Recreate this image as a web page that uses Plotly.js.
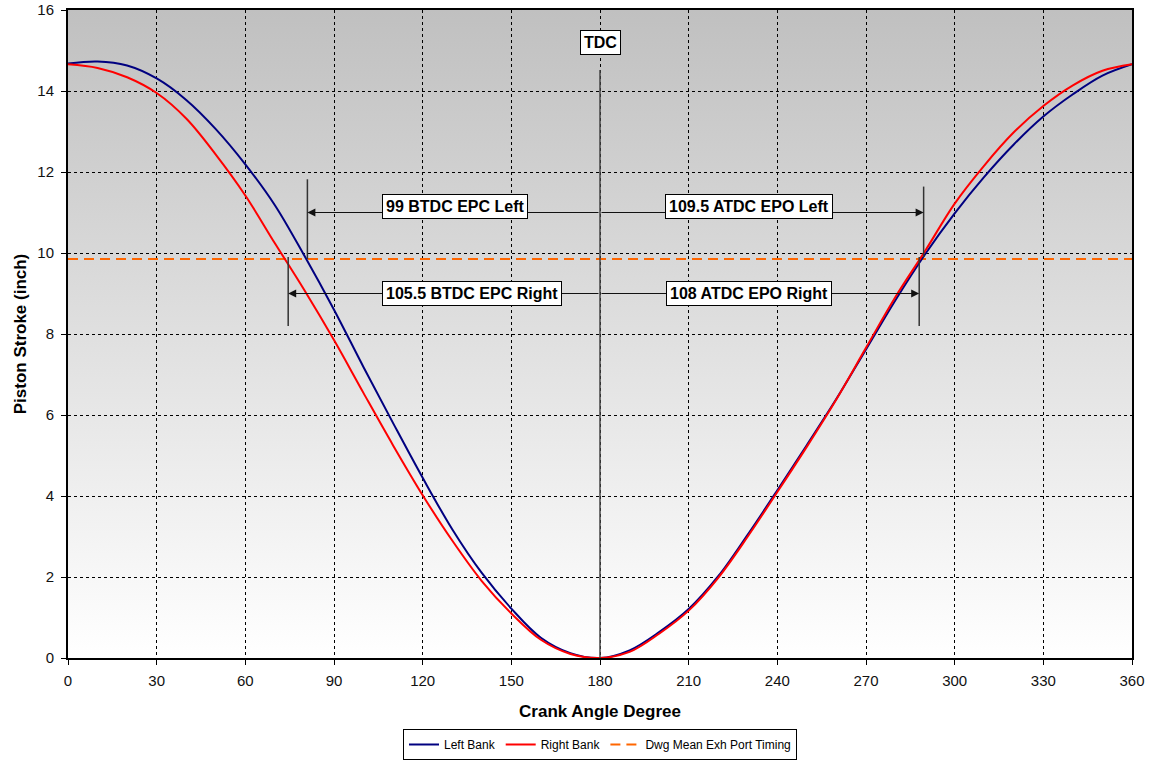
<!DOCTYPE html>
<html>
<head>
<meta charset="utf-8">
<script src="https://cdn.plot.ly/plotly-3.0.1.min.js"></script>
<style>
  html, body { margin: 0; padding: 0; background: #ffffff; }
  #chart { width: 1153px; height: 761px; }
</style>
</head>
<body>
<div id="chart"></div>
<script>
// Crank angle (degrees) and piston stroke (inch) for each bank
const crankAngle = [0, 10, 20, 30, 40, 50, 60, 70, 80, 90,
  100, 110, 120, 130, 140, 150, 160, 170, 180, 190,
  200, 210, 220, 230, 240, 250, 260, 270, 280, 290,
  300, 310, 320, 330, 340, 350, 360];

const leftBank = [14.68, 14.73, 14.63, 14.31, 13.78, 13.06, 12.19, 11.18, 9.93, 8.60,
  7.18, 5.80, 4.45, 3.18, 2.10, 1.22, 0.50, 0.12, 0.00, 0.19,
  0.64, 1.21, 2.02, 3.05, 4.14, 5.26, 6.40, 7.62, 8.84, 9.97,
  10.98, 11.88, 12.68, 13.37, 13.92, 14.38, 14.66];

const rightBank = [14.66, 14.57, 14.34, 13.95, 13.32, 12.43, 11.42, 10.24, 9.08, 7.85,
  6.54, 5.25, 4.02, 2.90, 1.90, 1.10, 0.45, 0.10, 0.00, 0.15,
  0.60, 1.17, 1.98, 3.00, 4.10, 5.22, 6.39, 7.66, 8.92, 10.05,
  11.22, 12.16, 12.98, 13.63, 14.14, 14.50, 14.66];

// Drawing mean exhaust port timing level
const portTimingAngle = [0, 360];
const portTimingStroke = [9.85, 9.85];

// Timing events (degrees from top dead centre)
const tdcAngle = 180;
const epcLeftBTDC = 99;
const epcRightBTDC = 105.5;
const epoLeftATDC = 109.5;
const epoRightATDC = 108;

const seriesNames = ['Left Bank', 'Right Bank', 'Dwg Mean Exh Port Timing'];
const labelText = {
  tdc: 'TDC',
  epcLeft: epcLeftBTDC + ' BTDC EPC Left',
  epcRight: epcRightBTDC + ' BTDC EPC Right',
  epoLeft: epoLeftATDC + ' ATDC EPO Left',
  epoRight: epoRightATDC + ' ATDC EPO Right'
};

const FONT = 'Liberation Sans, Arial, Helvetica, sans-serif';

// gray-to-white backdrop for the plotting area
const gradSvg = "<svg xmlns='http://www.w3.org/2000/svg' width='10' height='100' viewBox='0 0 10 100' preserveAspectRatio='none'>" +
  "<defs><linearGradient id='g' x1='0' y1='0' x2='0' y2='1'>" +
  "<stop offset='0' stop-color='#c0c0c0'/><stop offset='1' stop-color='#ffffff'/>" +
  "</linearGradient></defs><rect x='0' y='0' width='10' height='100' fill='url(#g)'/></svg>";
const gradSrc = 'data:image/svg+xml;charset=utf-8,' + encodeURIComponent(gradSvg);

const traces = [
  {
    x: portTimingAngle, y: portTimingStroke, name: seriesNames[2],
    type: 'scatter', mode: 'lines', legendrank: 3,
    line: { color: '#ff6600', width: 2, dash: '10px,6px' },
    hoverinfo: 'skip'
  },
  {
    x: crankAngle, y: leftBank, name: seriesNames[0],
    type: 'scatter', mode: 'lines', legendrank: 1,
    line: { color: '#000080', width: 2, shape: 'spline', smoothing: 1 }
  },
  {
    x: crankAngle, y: rightBank, name: seriesNames[1],
    type: 'scatter', mode: 'lines', legendrank: 2,
    line: { color: '#ff0000', width: 2, shape: 'spline', smoothing: 1 }
  }
];

const epcLeftAngle = tdcAngle - epcLeftBTDC;
const epcRightAngle = tdcAngle - epcRightBTDC;
const epoLeftAngle = tdcAngle + epoLeftATDC;
const epoRightAngle = tdcAngle + epoRightATDC;

const upperArrowY = 11;
const lowerArrowY = 9;

const markerLine = { color: '#333333', width: 1.5 };
const shapes = [
  { type: 'line', xref: 'x', yref: 'y', x0: tdcAngle, x1: tdcAngle, y0: 0, y1: 14.52, line: { color: '#444444', width: 1.5 } },
  { type: 'line', xref: 'x', yref: 'y', x0: epcLeftAngle, x1: epcLeftAngle, y0: 9.85, y1: 11.82, line: markerLine },
  { type: 'line', xref: 'x', yref: 'y', x0: epcRightAngle, x1: epcRightAngle, y0: 8.2, y1: 9.9, line: markerLine },
  { type: 'line', xref: 'x', yref: 'y', x0: epoLeftAngle, x1: epoLeftAngle, y0: 9.9, y1: 11.64, line: markerLine },
  { type: 'line', xref: 'x', yref: 'y', x0: epoRightAngle, x1: epoRightAngle, y0: 8.2, y1: 9.9, line: markerLine }
];

function arrow(toX, y) {
  return {
    xref: 'x', yref: 'y', axref: 'x', ayref: 'y',
    x: toX, y: y, ax: tdcAngle, ay: y, text: '',
    showarrow: true, arrowhead: 2, arrowsize: 1.6, arrowwidth: 1,
    arrowcolor: '#111111', standoff: 0, startstandoff: 0
  };
}

function label(text, x, y, xanchor) {
  return {
    xref: 'x', yref: 'y', x: x, y: y, xanchor: xanchor, yanchor: 'middle',
    text: text, showarrow: false,
    font: { family: FONT, size: 16, color: '#000000', weight: 700 },
    bgcolor: '#ffffff', bordercolor: '#000000', borderwidth: 1, borderpad: 3
  };
}

const annotations = [
  arrow(epcLeftAngle, upperArrowY),
  arrow(epoLeftAngle, upperArrowY),
  arrow(epcRightAngle, lowerArrowY),
  arrow(epoRightAngle, lowerArrowY),
  label(labelText.tdc, tdcAngle, 15.21, 'center'),
  label(labelText.epcLeft, 106.3, 11.16, 'left'),
  label(labelText.epcRight, 106.3, 9.01, 'left'),
  label(labelText.epoLeft, 230.4, 11.16, 'center'),
  label(labelText.epoRight, 230.4, 9.01, 'center')
];

const axisCommon = {
  showgrid: true, gridcolor: '#000000', gridwidth: 1, griddash: '3px,3px',
  zeroline: false, showline: true, linecolor: '#000000', linewidth: 2, mirror: true,
  ticks: 'outside', ticklen: 5, tickwidth: 1, tickcolor: '#000000',
  tickfont: { family: FONT, size: 15, color: '#111111' }
};

const layout = {
  width: 1153, height: 761,
  margin: { l: 68, r: 21, t: 10, b: 103, autoexpand: false },
  paper_bgcolor: '#ffffff',
  plot_bgcolor: 'rgba(0,0,0,0)',
  showlegend: true,
  legend: {
    orientation: 'h', x: 0.5, xanchor: 'center', y: -0.1574, yanchor: 'bottom',
    bgcolor: '#ffffff', bordercolor: '#000000', borderwidth: 1,
    font: { family: FONT, size: 12, color: '#000000' },
    traceorder: 'normal'
  },
  xaxis: Object.assign({}, axisCommon, {
    range: [0, 360], tick0: 0, dtick: 30, ticklabelstandoff: 3,
    title: { text: 'Crank Angle Degree', standoff: 17, font: { family: FONT, size: 17, color: '#000000', weight: 700 } }
  }),
  yaxis: Object.assign({}, axisCommon, {
    range: [0, 16], tick0: 0, dtick: 2, ticklabelstandoff: 4,
    title: { text: 'Piston Stroke (inch)', standoff: 6, font: { family: FONT, size: 17, color: '#000000', weight: 700 } }
  }),
  images: [{
    source: gradSrc, xref: 'paper', yref: 'paper', x: 0, y: 1, sizex: 1, sizey: 1,
    xanchor: 'left', yanchor: 'top', sizing: 'stretch', layer: 'below'
  }],
  shapes: shapes,
  annotations: annotations
};

Plotly.newPlot('chart', traces, layout, { displayModeBar: false, staticPlot: true });
</script>
</body>
</html>
